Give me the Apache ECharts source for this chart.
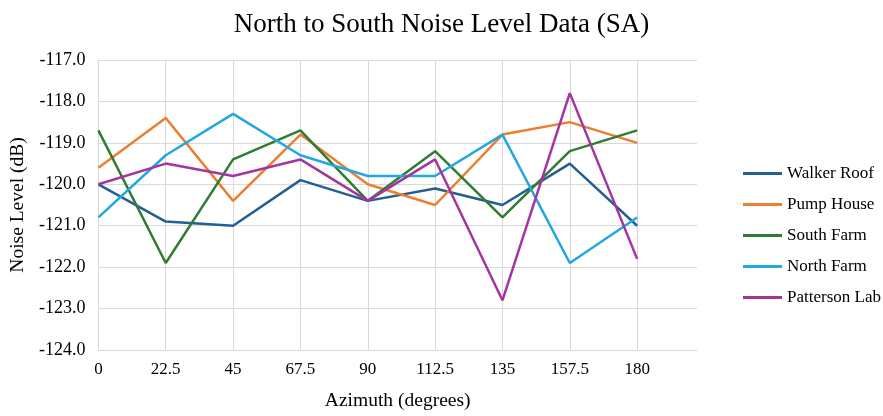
<!DOCTYPE html>
<html>
<head>
<meta charset="utf-8">
<script src="https://cdn.jsdelivr.net/npm/echarts@6/dist/echarts.min.js"></script>
<style>html,body{margin:0;padding:0;background:#fff}#c{width:883px;height:416px}</style>
</head>
<body>
<div id="c"></div>
<script>
var azimuths = [0, 22.5, 45, 67.5, 90, 112.5, 135, 157.5, 180];
var seriesNames = ['Walker Roof', 'Pump House', 'South Farm', 'North Farm', 'Patterson Lab'];
var walkerRoof   = [-120.0, -120.9, -121.0, -119.9, -120.4, -120.1, -120.5, -119.5, -121.0];
var pumpHouse    = [-119.6, -118.4, -120.4, -118.8, -120.0, -120.5, -118.8, -118.5, -119.0];
var southFarm    = [-118.7, -121.9, -119.4, -118.7, -120.4, -119.2, -120.8, -119.2, -118.7];
var northFarm    = [-120.8, -119.3, -118.3, -119.3, -119.8, -119.8, -118.8, -121.9, -120.8];
var pattersonLab = [-120.0, -119.5, -119.8, -119.4, -120.4, -119.4, -122.8, -117.8, -121.8];
var colors = ['#255e91', '#ed7d31', '#2e7d32', '#22a7e0', '#a4349f'];
var allValues = [walkerRoof, pumpHouse, southFarm, northFarm, pattersonLab];

var font = '"Liberation Serif", "DejaVu Serif", serif';
var series = seriesNames.map(function (name, i) {
  return {
    name: name,
    type: 'line',
    data: azimuths.map(function (a, j) { return [a, allValues[i][j]]; }),
    symbol: 'none',
    lineStyle: { width: 2.5, color: colors[i] },
    itemStyle: { color: colors[i] }
  };
});

var chart = echarts.init(document.getElementById('c'), null, { renderer: 'canvas' });
chart.setOption({
  animation: false,
  backgroundColor: '#ffffff',
  title: {
    text: 'North to South Noise Level Data (SA)',
    left: 'center',
    top: 6,
    textStyle: { fontFamily: font, fontSize: 27, fontWeight: 'normal', color: '#000' }
  },
  legend: {
    orient: 'vertical',
    left: 738,
    top: 160,
    itemWidth: 39,
    itemHeight: 3,
    itemGap: 14,
    icon: 'rect',
    data: seriesNames,
    textStyle: { fontFamily: font, fontSize: 17, color: '#000' }
  },
  grid: { left: 97, right: 186, top: 60, bottom: 64 },
  xAxis: {
    type: 'value',
    min: 0,
    max: 200,
    interval: 22.5,
    name: 'Azimuth (degrees)',
    nameLocation: 'middle',
    nameGap: 41,
    nameTextStyle: { fontFamily: font, fontSize: 19.5, color: '#000' },
    axisLine: { show: true, lineStyle: { color: '#d9d9d9', width: 1 } },
    axisTick: { show: false },
    axisLabel: {
      fontFamily: font, fontSize: 17, color: '#000', margin: 11,
      showMaxLabel: false,
      formatter: function (v) { return v > 180 ? '' : String(v); }
    },
    splitLine: { show: true, showMaxLine: false, lineStyle: { color: '#d9d9d9', width: 1 } }
  },
  yAxis: {
    type: 'value',
    min: -124,
    max: -117,
    interval: 1,
    name: 'Noise Level (dB)',
    nameLocation: 'middle',
    nameGap: 67,
    nameTextStyle: { fontFamily: font, fontSize: 19.5, color: '#000' },
    axisLine: { show: false },
    axisTick: { show: false },
    axisLabel: {
      fontFamily: font, fontSize: 18, color: '#000', margin: 13,
      formatter: function (v) { return v.toFixed(1); }
    },
    splitLine: { show: true, lineStyle: { color: '#d9d9d9', width: 1 } }
  },
  series: series
});
</script>
</body>
</html>
